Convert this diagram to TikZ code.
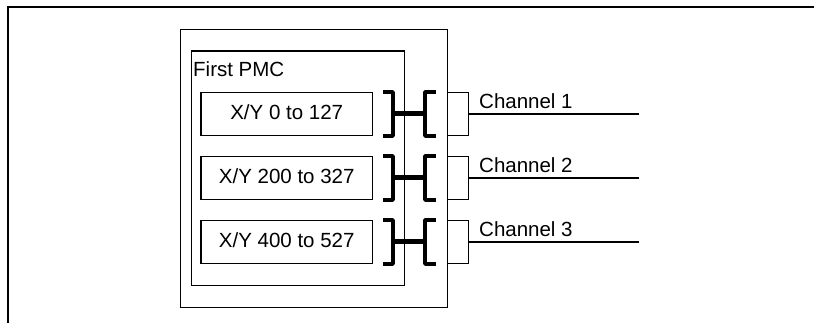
\documentclass[tikz,border=0pt]{standalone}
\usepackage{fontspec}
\setmainfont{Liberation Sans}
\begin{document}
\begin{tikzpicture}[x=1pt,y=-1pt,
  boxline/.style={draw, line width=1.3pt, inner sep=0pt},
  txt/.style={font=\fontsize{20.5}{24}\selectfont, inner sep=0pt},
  brk/.style={line width=4pt, line join=bevel},
  hbar/.style={line width=5pt},
  wire/.style={line width=1.3pt}]
\clip (0,0) rectangle (814,323);
\fill[white] (0,0) rectangle (814,323);
\draw[line width=2pt] (7.7,340) -- (7.7,7) -- (830,7);
\node[boxline, minimum width=266.7pt, minimum height=277.7pt, anchor=north west] (unit) at (180,29) {};
\node[boxline, minimum width=213.3pt, minimum height=234pt, anchor=north west] (pmc) at (190.7,50.5) {};
\node[txt, anchor=base west] (pmclbl) at (193,76.5) {First PMC};
\foreach \k/\cy in {1/114,2/178,3/242}{
  \node[boxline, minimum width=171.3pt, minimum height=43.4pt] (b\k) at (286.7,\cy) {};
  \node[boxline, minimum width=21.3pt, minimum height=43.4pt, anchor=west] (c\k) at (446.7,\cy) {};
  \coordinate (rb\k) at (393,\cy);
  \coordinate (lb\k) at (425,\cy);
  \draw[brk] (383,{\cy-22}) -- (393,{\cy-22}) -- (393,{\cy+22}) -- (383,{\cy+22});
  \draw[brk] (436,{\cy-22}) -- (425,{\cy-22}) -- (425,{\cy+22}) -- (436,{\cy+22});
  \draw[hbar] (rb\k) -- (lb\k);
  \coordinate (w\k) at (639.3,\cy);
  \draw[wire] (c\k.east) -- (w\k);
  \node[txt, anchor=base west] (ch\k) at (479,{\cy-5.7}) {Channel \k};
}
\node[txt, anchor=base] (t1) at (286.7,119.2) {X/Y 0 to 127};
\node[txt, anchor=base] (t2) at (286.7,183.2) {X/Y 200 to 327};
\node[txt, anchor=base] (t3) at (286.7,247.2) {X/Y 400 to 527};
\end{tikzpicture}
\end{document}
